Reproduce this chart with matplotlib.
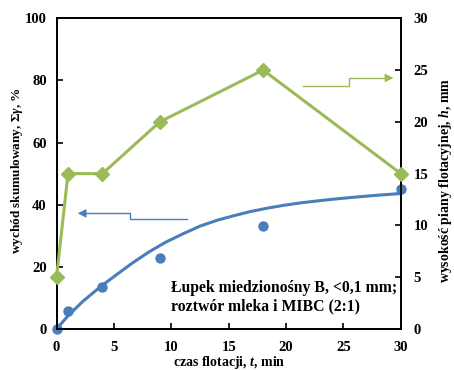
import matplotlib
matplotlib.use("Agg")
import matplotlib.pyplot as plt

plt.rcParams['font.family'] = ['Liberation Serif', 'DejaVu Serif']
plt.rcParams['font.weight'] = 'bold'
plt.rcParams['mathtext.fontset'] = 'custom'
plt.rcParams['mathtext.rm'] = 'Liberation Serif:bold'
plt.rcParams['mathtext.it'] = 'Liberation Serif:italic:bold'
plt.rcParams['mathtext.bf'] = 'Liberation Serif:bold'

# data
t_yield = [0, 1, 4, 9, 18, 30]
yield_pts = [0, 5.9, 13.6, 22.7, 33.1, 45.2]
t_fit = [0, 1.0, 2.3, 3.7, 5.2, 6.6, 8.1, 9.5, 11.0, 12.5, 14.0, 15.5, 16.9, 18.4, 19.8, 21.3, 22.7, 24.2, 25.6, 27.8, 30.0]
yield_fit = [0, 4.2, 8.9, 13.2, 17.4, 21.2, 24.9, 27.9, 30.6, 33.1, 35.0, 36.5, 37.8, 38.9, 39.8, 40.6, 41.2, 41.8, 42.3, 43.0, 43.6]
t_froth = [0, 1, 4, 9, 18, 30]
froth_h = [5, 15, 15, 20, 25, 15]

xticks = [0, 5, 10, 15, 20, 25, 30]
yticks_left = [0, 20, 40, 60, 80, 100]
yticks_right = [0, 5, 10, 15, 20, 25, 30]

blue = '#4A7EBB'
green = '#9BBB59'

fig = plt.figure(figsize=(4.54, 3.70), dpi=100)
ax = fig.add_axes([0.1245, 0.111, 0.7585, 0.8395])
ax2 = ax.twinx()

ax.plot(t_fit, yield_fit, color=blue, lw=2.2, zorder=3, solid_capstyle='round')
ax.plot(t_yield, yield_pts, 'o', color=blue, ms=6.5, zorder=4, clip_on=False)
ax2.plot(t_froth, froth_h, '-D', color=green, lw=2.2, ms=7.5, mec=green, clip_on=False, zorder=3)

ax.set_xlim(0, 30)
ax.set_ylim(0, 100)
ax2.set_ylim(0, 30)
ax.set_xticks(xticks)
ax.set_yticks(yticks_left)
ax2.set_yticks(yticks_right)

for a in (ax, ax2):
    a.tick_params(direction='in', length=4, width=1.2, labelsize=10.5)
    for s in a.spines.values():
        s.set_linewidth(1.3)
ax.tick_params(axis='x', pad=9)
ax.tick_params(axis='y', pad=7)
ax2.tick_params(axis='y', pad=9)

ax.set_xlabel('czas flotacji, $t$, min', fontsize=10, fontweight='bold')
ax.xaxis.set_label_coords(0.5, -0.082)
ax.set_ylabel(r'wychód skumulowany, $\Sigma\gamma$, %', fontsize=9.5, fontweight='bold')
ax.yaxis.set_label_coords(-0.091, 0.511)
ax2.set_ylabel('wysokość piany flotacyjnej, $h$, mm', fontsize=10, fontweight='bold', rotation=90)
ax2.yaxis.set_label_coords(1.104, 0.479)

# arrows (annotation positions in left-axis data coords)
ax.plot([11.34, 6.4, 6.4, 2.2], [35.3, 35.3, 37.2, 37.2], color=blue, lw=1.0, zorder=2)
ax.annotate('', xy=(1.6, 37.2), xytext=(2.4, 37.2),
            arrowprops=dict(arrowstyle='-|>', color=blue, lw=1.0, mutation_scale=12), zorder=2)
ax.plot([21.5, 25.5, 25.5, 29.0], [78.1, 78.1, 80.8, 80.8], color=green, lw=1.0, zorder=2)
ax.annotate('', xy=(29.6, 80.8), xytext=(28.8, 80.8),
            arrowprops=dict(arrowstyle='-|>', color=green, lw=1.0, mutation_scale=12), zorder=2)

ax.text(10.0, 10.1, 'Łupek miedzionośny B, <0,1 mm;\nroztwór mleka i MIBC (2:1)',
        ha='left', va='center', fontsize=11.3, fontweight='bold', linespacing=1.2)

fig.savefig('out.png', dpi=100)
